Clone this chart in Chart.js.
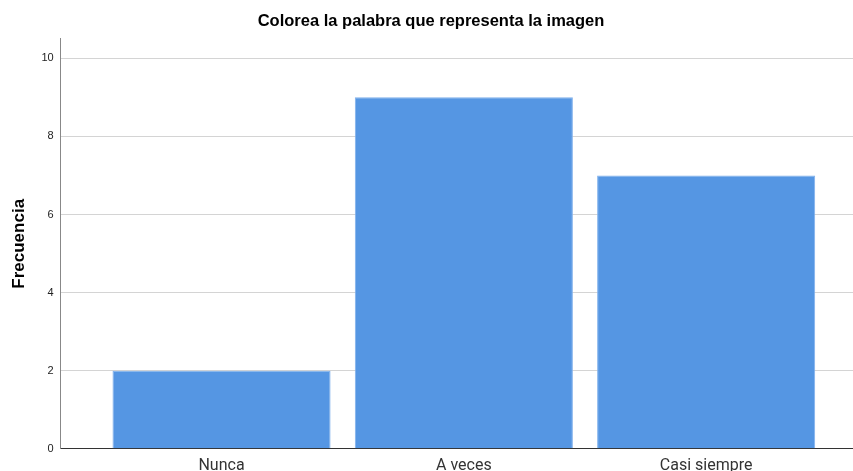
<!DOCTYPE html>
<html>
<head>
<meta charset="utf-8">
<script src="https://cdn.jsdelivr.net/npm/chart.js@4"></script>
<style>
html,body{margin:0;padding:0;background:#fff;overflow:hidden;}
#wrap{position:relative;width:853px;height:471px;overflow:hidden;}
</style>
</head>
<body>
<div id="wrap"><canvas id="c" width="853" height="484"></canvas></div>
<script>
const title = 'Colorea la palabra que representa la imagen';
const yAxisTitle = 'Frecuencia';
const categories = ['Nunca', 'A veces', 'Casi siempre'];
const frequencies = [2, 9, 7];
const yTicks = [0, 2, 4, 6, 8, 10];

const points = frequencies.map((v, i) => ({x: i, y: v}));

new Chart(document.getElementById('c'), {
  type: 'bar',
  data: {
    datasets: [{
      data: points,
      backgroundColor: '#5596E3',
      borderColor: '#7FB0EC',
      borderWidth: 1,
      barPercentage: 0.9,
      categoryPercentage: 1.0
    }]
  },
  options: {
    responsive: false,
    animation: false,
    layout: {padding: {left: 9, right: 0, top: 0, bottom: 0}},
    plugins: {
      legend: {display: false},
      tooltip: {enabled: false},
      title: {
        display: true,
        text: title,
        color: '#000',
        font: {family: 'Liberation Sans', size: 16.5, weight: 'bold'},
        padding: {top: 12, bottom: 7}
      }
    },
    scales: {
      x: {
        type: 'linear',
        offset: false,
        min: -0.664,
        max: 2.606,
        afterBuildTicks: s => { s.ticks = categories.map((c, i) => ({value: i})); },
        ticks: {
          callback: v => categories[v],
          color: '#333',
          font: {family: 'Roboto', size: 16},
          padding: 8,
          maxRotation: 0
        },
        grid: {display: false, drawTicks: false},
        border: {display: true, color: '#333', width: 1}
      },
      y: {
        min: 0,
        max: 10.5,
        afterBuildTicks: s => { s.ticks = yTicks.map(v => ({value: v})); },
        ticks: {
          color: '#222',
          font: {family: 'Liberation Sans', size: 11},
          padding: 7
        },
        grid: {color: '#d4d4d4', lineWidth: 1, drawTicks: false},
        border: {display: true, color: '#888', width: 1},
        title: {
          display: true,
          text: yAxisTitle,
          color: '#000',
          font: {family: 'Liberation Sans', size: 17, weight: 'bold'},
          padding: {top: 0, bottom: 5}
        }
      }
    }
  }
});
</script>
</body>
</html>
